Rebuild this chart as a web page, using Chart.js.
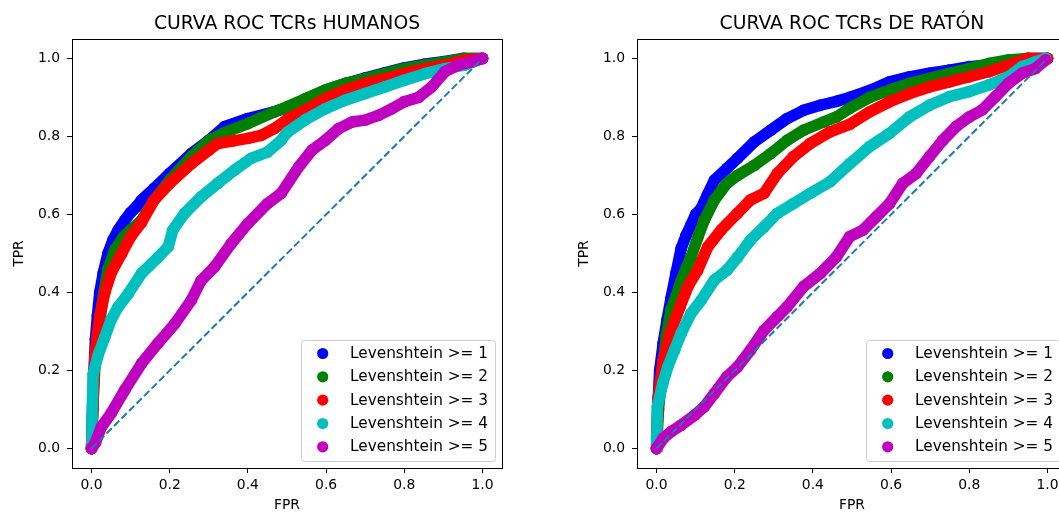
<!DOCTYPE html>
<html>
<head>
<meta charset="utf-8">
<title>Curvas ROC TCRs</title>
<script src="https://cdn.jsdelivr.net/npm/chart.js@4.4.1/dist/chart.umd.min.js"></script>
<style>
  html, body { margin: 0; padding: 0; background: #fff; overflow: hidden; width: 1059px; height: 512px; }
  .panel { position: absolute; top: 0; width: 530px; height: 512px; }
  #panelHumanos { left: 0; }
  #panelRaton { left: 565px; }
</style>
</head>
<body>
<div class="panel" id="panelHumanos"><canvas id="chartHumanos" width="530" height="512"></canvas></div>
<div class="panel" id="panelRaton"><canvas id="chartRaton" width="530" height="512"></canvas></div>
<script>
const TICKS = [0.0, 0.2, 0.4, 0.6, 0.8, 1.0];
const LABELS = ["Levenshtein >= 1", "Levenshtein >= 2", "Levenshtein >= 3", "Levenshtein >= 4", "Levenshtein >= 5"];
const COLORS = ["#0000ff", "#008000", "#ff0000", "#00bfbf", "#bf00bf"];
const diagonalX = [0, 1];
const diagonalY = [0, 1];

// TCRs humanos
const humL1X = [0, 0.004, 0.01, 0.015, 0.021, 0.03, 0.042, 0.055, 0.068, 0.085, 0.1, 0.115, 0.128, 0.16, 0.2, 0.255, 0.3, 0.34, 0.4, 0.467, 0.52, 0.55, 0.6, 0.65, 0.7, 0.75, 0.8, 0.85, 0.9, 0.95, 1.0];
const humL1Y = [0, 0.15, 0.28, 0.34, 0.4, 0.45, 0.5, 0.535, 0.56, 0.585, 0.605, 0.62, 0.637, 0.667, 0.705, 0.756, 0.79, 0.825, 0.846, 0.863, 0.88, 0.897, 0.919, 0.936, 0.95, 0.963, 0.976, 0.985, 0.992, 1.0, 1.0];
const humL2X = [0, 0.004, 0.01, 0.02, 0.03, 0.042, 0.06, 0.08, 0.1, 0.128, 0.16, 0.2, 0.255, 0.3, 0.34, 0.4, 0.467, 0.5, 0.547, 0.598, 0.649, 0.7, 0.75, 0.8, 0.853, 0.904, 0.955, 1.0];
const humL2Y = [0, 0.12, 0.24, 0.32, 0.39, 0.46, 0.51, 0.54, 0.56, 0.585, 0.637, 0.688, 0.748, 0.79, 0.81, 0.833, 0.863, 0.876, 0.897, 0.919, 0.936, 0.948, 0.961, 0.974, 0.983, 0.991, 1.0, 1.0];
const humL3X = [0, 0.003, 0.0085, 0.015, 0.021, 0.034, 0.05, 0.077, 0.1, 0.128, 0.16, 0.2, 0.255, 0.3, 0.323, 0.36, 0.4, 0.434, 0.467, 0.5, 0.547, 0.598, 0.649, 0.7, 0.75, 0.8, 0.853, 0.904, 0.955, 1.0];
const humL3Y = [0, 0.1, 0.235, 0.29, 0.34, 0.4, 0.45, 0.5, 0.543, 0.58, 0.637, 0.68, 0.73, 0.765, 0.782, 0.788, 0.795, 0.803, 0.82, 0.843, 0.868, 0.897, 0.919, 0.936, 0.948, 0.961, 0.974, 0.983, 0.996, 1.0];
const humL4X = [0, 0.001, 0.004, 0.017, 0.034, 0.05, 0.068, 0.094, 0.128, 0.17, 0.196, 0.208, 0.238, 0.28, 0.323, 0.366, 0.408, 0.45, 0.485, 0.5, 0.547, 0.598, 0.649, 0.7, 0.75, 0.8, 0.853, 0.904, 0.955, 1.0];
const humL4Y = [0, 0.08, 0.19, 0.24, 0.286, 0.33, 0.363, 0.397, 0.449, 0.49, 0.517, 0.56, 0.603, 0.645, 0.68, 0.714, 0.744, 0.76, 0.79, 0.81, 0.843, 0.871, 0.893, 0.91, 0.927, 0.944, 0.961, 0.974, 0.983, 1.0];
const humL5X = [0, 0.01, 0.025, 0.05, 0.085, 0.128, 0.17, 0.213, 0.255, 0.28, 0.315, 0.357, 0.4, 0.45, 0.485, 0.53, 0.564, 0.598, 0.632, 0.666, 0.7, 0.734, 0.768, 0.8, 0.836, 0.87, 0.904, 0.938, 0.972, 1.0];
const humL5Y = [0, 0.015, 0.055, 0.09, 0.15, 0.218, 0.27, 0.32, 0.38, 0.43, 0.466, 0.525, 0.577, 0.628, 0.654, 0.722, 0.765, 0.79, 0.82, 0.837, 0.842, 0.854, 0.871, 0.889, 0.9, 0.927, 0.966, 0.983, 0.991, 1.0];

// TCRs de ratón
const ratL1X = [0, 0.003, 0.008, 0.017, 0.027, 0.037, 0.05, 0.063, 0.075, 0.088, 0.1, 0.114, 0.13, 0.148, 0.18, 0.207, 0.25, 0.292, 0.334, 0.376, 0.419, 0.46, 0.494, 0.545, 0.596, 0.647, 0.698, 0.749, 0.8, 0.85, 0.9, 0.95, 1.0];
const ratL1Y = [0, 0.1, 0.2, 0.27, 0.33, 0.385, 0.45, 0.513, 0.545, 0.573, 0.6, 0.615, 0.65, 0.688, 0.718, 0.744, 0.786, 0.816, 0.846, 0.867, 0.88, 0.89, 0.9, 0.918, 0.94, 0.953, 0.962, 0.97, 0.979, 0.983, 0.991, 1.0, 1.0];
const ratL2X = [0, 0.005, 0.015, 0.025, 0.037, 0.05, 0.063, 0.075, 0.088, 0.105, 0.122, 0.148, 0.18, 0.207, 0.25, 0.292, 0.334, 0.376, 0.427, 0.46, 0.494, 0.545, 0.596, 0.647, 0.698, 0.749, 0.8, 0.85, 0.9, 0.95, 1.0];
const ratL2Y = [0, 0.1, 0.2, 0.29, 0.355, 0.39, 0.43, 0.46, 0.49, 0.54, 0.585, 0.637, 0.68, 0.7, 0.726, 0.756, 0.79, 0.816, 0.837, 0.85, 0.872, 0.9, 0.919, 0.936, 0.949, 0.962, 0.974, 0.987, 0.996, 1.0, 1.0];
const ratL3X = [0, 0.001, 0.004, 0.017, 0.034, 0.06, 0.08, 0.105, 0.131, 0.165, 0.207, 0.24, 0.275, 0.309, 0.35, 0.393, 0.444, 0.494, 0.545, 0.596, 0.647, 0.698, 0.749, 0.8, 0.85, 0.9, 0.95, 1.0];
const ratL3Y = [0, 0.04, 0.13, 0.226, 0.295, 0.363, 0.415, 0.457, 0.517, 0.56, 0.603, 0.637, 0.654, 0.705, 0.748, 0.782, 0.812, 0.831, 0.863, 0.889, 0.91, 0.927, 0.94, 0.953, 0.966, 0.983, 1.0, 1.0];
const ratL4X = [0, 0.002, 0.016, 0.029, 0.046, 0.063, 0.088, 0.114, 0.148, 0.18, 0.207, 0.24, 0.275, 0.309, 0.35, 0.393, 0.444, 0.494, 0.545, 0.596, 0.647, 0.698, 0.749, 0.8, 0.85, 0.9, 0.935, 0.969, 0.995];
const ratL4Y = [0, 0.107, 0.167, 0.21, 0.252, 0.295, 0.346, 0.38, 0.432, 0.457, 0.49, 0.534, 0.568, 0.603, 0.628, 0.654, 0.684, 0.73, 0.774, 0.808, 0.85, 0.88, 0.902, 0.915, 0.932, 0.953, 0.979, 0.991, 1.0];
const ratL5X = [0, 0.017, 0.037, 0.063, 0.097, 0.122, 0.148, 0.18, 0.207, 0.24, 0.275, 0.309, 0.334, 0.376, 0.419, 0.46, 0.494, 0.528, 0.562, 0.596, 0.63, 0.664, 0.698, 0.732, 0.766, 0.8, 0.833, 0.867, 0.9, 0.935, 0.969, 0.995];
const ratL5Y = [0, 0.026, 0.043, 0.06, 0.085, 0.107, 0.141, 0.184, 0.209, 0.252, 0.303, 0.338, 0.363, 0.415, 0.449, 0.491, 0.543, 0.56, 0.594, 0.628, 0.68, 0.705, 0.748, 0.79, 0.825, 0.85, 0.868, 0.902, 0.936, 0.962, 0.974, 0.996];

Chart.defaults.font.family = "'DejaVu Sans', sans-serif";
Chart.defaults.color = "#000";

const toPoints = function (xs, ys) {
  return xs.map((x, i) => ({ x: x, y: ys[i] }));
};

const buildDatasets = function (curves) {
  const sets = curves.map((c, i) => ({
    label: LABELS[i],
    data: toPoints(c[0], c[1]),
    showLine: true,
    borderColor: COLORS[i],
    backgroundColor: COLORS[i],
    borderWidth: 11.5,
    borderCapStyle: "round",
    borderJoinStyle: "round",
    pointRadius: 5.9,
    pointBorderWidth: 0,
    pointHoverRadius: 5.9,
    order: 10 - i,
  }));
  sets.push({
    data: toPoints(diagonalX, diagonalY),
    showLine: true,
    borderColor: "#1f77b4",
    borderWidth: 2,
    borderDash: [7.4, 3.2],
    pointRadius: 0,
    order: 0,
  });
  return sets;
};

const frameAndLegend = {
  id: "frameAndLegend",
  afterDatasetsDraw(chart) {
    const ctx = chart.ctx;
    const area = chart.chartArea;
    const boxW = 194;
    const boxH = 121;
    const bx = area.right - 7 - boxW;
    const by = area.bottom - 7 - boxH;
    ctx.save();
    ctx.beginPath();
    ctx.roundRect(bx + 0.5, by + 0.5, boxW, boxH, 3);
    ctx.fillStyle = "rgba(255,255,255,0.8)";
    ctx.fill();
    ctx.strokeStyle = "#cccccc";
    ctx.lineWidth = 1;
    ctx.stroke();
    ctx.font = "15.3px 'DejaVu Sans'";
    ctx.textBaseline = "middle";
    ctx.textAlign = "left";
    chart.data.datasets.filter((d) => d.label).forEach((d, i) => {
      const cy = by + 13.5 + i * 23.33;
      ctx.beginPath();
      ctx.arc(bx + 21.7, cy, 5.6, 0, Math.PI * 2);
      ctx.fillStyle = d.borderColor;
      ctx.fill();
      ctx.fillStyle = "#000";
      ctx.fillText(d.label, bx + 49, cy + 0.5);
    });
    ctx.strokeStyle = "#000";
    ctx.lineWidth = 1;
    ctx.strokeRect(Math.round(area.left) + 0.5, Math.round(area.top) + 0.5, Math.round(area.right - area.left), Math.round(area.bottom - area.top));
    ctx.restore();
  },
};

const axisOptions = function (titleText, isX) {
  return {
    type: "linear",
    min: -0.05,
    max: 1.05,
    afterBuildTicks: (scale) => {
      scale.ticks = TICKS.map((v) => ({ value: v }));
    },
    afterFit: (scale) => {
      if (isX) scale.height = 44;
      else scale.width = 72;
    },
    grid: { drawOnChartArea: false, drawTicks: true, tickLength: 5, color: "#000", lineWidth: 1 },
    border: { display: false },
    ticks: {
      padding: isX ? 4 : 7,
      maxRotation: 0,
      font: { size: 13.9 },
      color: "#000",
      callback: (v) => Number(v).toFixed(1),
    },
    title: {
      display: true,
      text: titleText,
      color: "#000",
      font: { size: 13.9 },
      padding: isX ? { top: 0, bottom: -1.8 } : { top: 11, bottom: 0 },
    },
  };
};

const renderRoc = function (canvasId, title, curves) {
  const ctx = document.querySelector(canvasId).getContext("2d");
  return new Chart(ctx, {
    type: "scatter",
    data: { datasets: buildDatasets(curves) },
    options: {
      responsive: false,
      animation: false,
      devicePixelRatio: 1,
      layout: { padding: { left: 0, right: 28, top: 0, bottom: 0 } },
      plugins: {
        legend: { display: false },
        tooltip: { enabled: false },
        title: {
          display: true,
          text: title,
          fullSize: false,
          color: "#000",
          font: { size: 18.8, weight: "normal" },
          padding: { top: 12.4, bottom: 4 },
        },
      },
      scales: {
        x: axisOptions("FPR", true),
        y: axisOptions("TPR", false),
      },
    },
    plugins: [frameAndLegend],
  });
};

renderRoc("#chartHumanos", "CURVA ROC TCRs HUMANOS", [
  [humL1X, humL1Y], [humL2X, humL2Y], [humL3X, humL3Y], [humL4X, humL4Y], [humL5X, humL5Y],
]);
renderRoc("#chartRaton", "CURVA ROC TCRs DE RATÓN", [
  [ratL1X, ratL1Y], [ratL2X, ratL2Y], [ratL3X, ratL3Y], [ratL4X, ratL4Y], [ratL5X, ratL5Y],
]);
</script>
</body>
</html>
